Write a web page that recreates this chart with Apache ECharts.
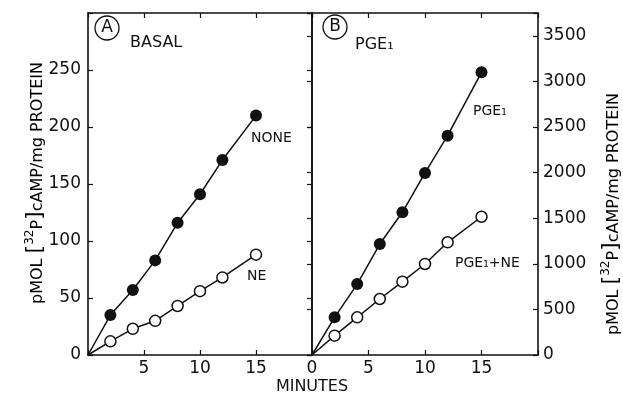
<!DOCTYPE html>
<html>
<head>
<meta charset="utf-8">
<script src="https://cdn.jsdelivr.net/npm/echarts@6/dist/echarts.min.js"></script>
<style>
html, body { margin: 0; padding: 0; background: #fff; }
#chart { width: 623px; height: 393px; }
</style>
</head>
<body>
<div id="chart"></div>
<script>
// time points (minutes)
const minutes = [2, 4, 6, 8, 10, 12, 15]
// panel A, basal (pmol, left scale)
const basalNone = [35, 57, 83, 116, 141, 171, 210]
const basalNE = [12, 23, 30, 43, 56, 68, 88]
// panel B, PGE1 (pmol, right scale)
const pge1 = [413, 778, 1217, 1565, 1996, 2405, 3100]
const pge1NE = [212, 413, 614, 804, 998, 1236, 1516]

const FONT = 'DejaVu Sans'
const BLACK = '#111'

// every curve starts at the origin
function pts(ys) {
  const out = [{ value: [0, 0], symbol: 'none' }]
  for (let i = 0; i < minutes.length; i++) out.push([minutes[i], ys[i]])
  return out
}

function series(name, ys, filled, xi, yi) {
  return {
    name: name,
    type: 'line',
    xAxisIndex: xi,
    yAxisIndex: yi,
    data: pts(ys),
    symbol: 'circle',
    symbolSize: filled ? 12 : 11,
    itemStyle: filled
      ? { color: BLACK }
      : { color: '#fff', borderColor: BLACK, borderWidth: 1.5 },
    lineStyle: { color: BLACK, width: 1.5 },
    emphasis: { disabled: true },
    silent: true
  }
}

const axisLine = { show: true, onZero: false, lineStyle: { color: BLACK, width: 1.6 } }
const labelStyle = { fontFamily: FONT, fontSize: 17, color: BLACK }

function xAx(grid, pos, labelFmt) {
  return {
    type: 'value', gridIndex: grid, position: pos, min: 0, max: 20, interval: 5,
    axisLine: axisLine,
    axisTick: { show: true, inside: true, length: 5, lineStyle: { color: BLACK, width: 1.2 } },
    axisLabel: labelFmt ? Object.assign({ margin: 5, formatter: labelFmt }, labelStyle) : { show: false },
    splitLine: { show: false }
  }
}

function yAx(grid, pos, max, interval, inside, labelFmt, margin) {
  return {
    type: 'value', gridIndex: grid, position: pos, min: 0, max: max, interval: interval,
    axisLine: axisLine,
    axisTick: { show: true, inside: inside, length: 5, lineStyle: { color: BLACK, width: 1.2 } },
    axisLabel: labelFmt ? Object.assign({ margin: margin, formatter: labelFmt }, labelStyle) : { show: false },
    splitLine: { show: false }
  }
}

const yTitle = '{a|pMOL }{b|[}{s|32}{a|P}{b|]}{a|cAMP/mg PROTEIN}'
const yTitleRich = {
  a: { fontFamily: FONT, fontSize: 16, color: BLACK, verticalAlign: 'bottom', lineHeight: 18 },
  b: { fontFamily: FONT, fontSize: 22, color: BLACK, verticalAlign: 'bottom', lineHeight: 22 },
  s: { fontFamily: FONT, fontSize: 12, color: BLACK, verticalAlign: 'top', lineHeight: 13 }
}

function txt(x, y, s, size, align) {
  return {
    type: 'text', x: x, y: y, silent: true,
    style: { text: s, fontFamily: FONT, fontSize: size, fill: BLACK, align: align || 'left', verticalAlign: 'middle' }
  }
}

const chart = echarts.init(document.getElementById('chart'))
chart.setOption({
  animation: false,
  backgroundColor: '#fff',
  grid: [
    { left: 88, top: 13, width: 224, height: 342 },
    { left: 312, top: 13, width: 226, height: 342 }
  ],
  xAxis: [
    xAx(0, 'bottom', v => (v === 0 || v === 20) ? '' : v),
    xAx(0, 'top', null),
    xAx(1, 'bottom', v => v === 20 ? '' : v),
    xAx(1, 'top', null)
  ],
  yAxis: [
    yAx(0, 'left', 300, 50, true, v => v === 300 ? '' : v, 7),
    yAx(0, 'right', 3750, 500, true, null),
    yAx(1, 'left', 300, 50, false, null),
    yAx(1, 'right', 3750, 500, true, v => v % 500 === 0 ? v : '', 5)
  ],
  series: [
    series('NONE', basalNone, true, 0, 0),
    series('NE', basalNE, false, 0, 0),
    series('PGE₁', pge1, true, 2, 3),
    series('PGE₁+NE', pge1NE, false, 2, 3)
  ],
  graphic: [
    { type: 'circle', shape: { cx: 107, cy: 28, r: 12 }, style: { fill: 'none', stroke: BLACK, lineWidth: 1.3 }, silent: true },
    txt(107, 28, 'A', 17, 'center'),
    txt(130, 43, 'BASAL', 16),
    { type: 'circle', shape: { cx: 335, cy: 27, r: 12 }, style: { fill: 'none', stroke: BLACK, lineWidth: 1.3 }, silent: true },
    txt(335, 27, 'B', 17, 'center'),
    txt(355, 45, 'PGE₁', 16),
    txt(251, 138, 'NONE', 14),
    txt(247, 276, 'NE', 14),
    txt(473, 111, 'PGE₁', 14),
    txt(455, 263, 'PGE₁+NE', 14),
    txt(312, 387, 'MINUTES', 16, 'center'),
    {
      type: 'text', x: 35, y: 183, rotation: Math.PI / 2, silent: true,
      style: { text: yTitle, rich: yTitleRich, align: 'center', verticalAlign: 'middle' }
    },
    {
      type: 'text', x: 611, y: 214, rotation: Math.PI / 2, silent: true,
      style: { text: yTitle, rich: yTitleRich, align: 'center', verticalAlign: 'middle' }
    }
  ]
})
</script>
</body>
</html>
